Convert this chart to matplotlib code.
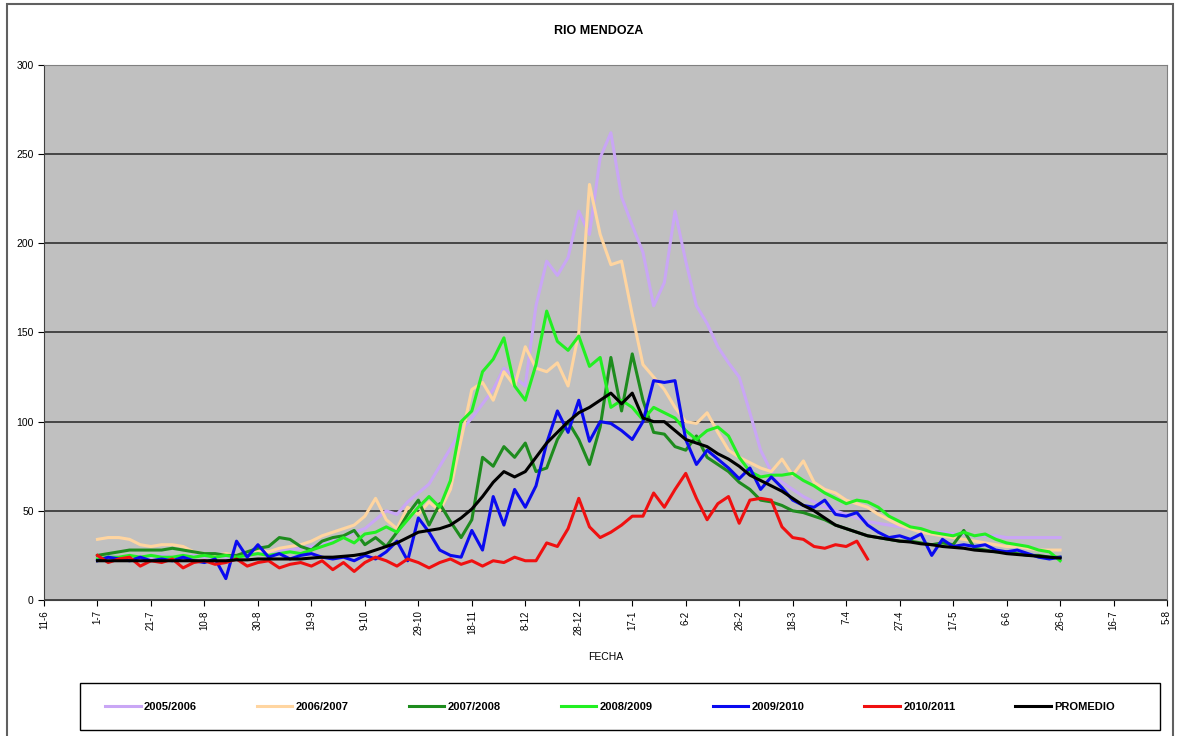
import matplotlib
matplotlib.use("Agg")
import matplotlib.pyplot as plt
from matplotlib.patches import Rectangle
import numpy as np

plt.rcParams['font.family'] = ['Liberation Sans', 'DejaVu Sans']

# x axis: days counted from 11-6, ticks every 20 days
tick_labels = ['11-6', '1-7', '21-7', '10-8', '30-8', '19-9', '9-10', '29-10', '18-11',
               '8-12', '28-12', '17-1', '6-2', '26-2', '18-3', '7-4', '27-4', '17-5',
               '6-6', '26-6', '16-7', '5-8']

# series sampled every 4 days starting at 1-7 (day 20)
start_day = 20
step = 4

s2005 = [23, 24, 24, 23, 24, 24, 25, 24, 24, 25,
         24, 25, 24, 25, 26, 26, 27, 28, 28, 29,
         30, 31, 33, 35, 38, 40, 45, 50, 48, 55,
         60, 65, 75, 85, 95, 102, 110, 118, 130, 125,
         120, 165, 190, 182, 192, 218, 205, 248, 262, 226,
         210, 195, 165, 178, 218, 190, 165, 155, 142, 133,
         125, 105, 84, 72, 66, 62, 58, 55, 52, 50,
         48, 46, 44, 43, 42, 41, 40, 39, 38, 38,
         37, 37, 36, 36, 36, 35, 35, 35, 35, 35,
         35]

s2006 = [34, 35, 35, 34, 31, 30, 31, 31, 30, 27,
         26, 25, 26, 25, 27, 28, 27, 29, 30, 31,
         33, 36, 38, 40, 42, 47, 57, 45, 40, 52,
         48, 55, 50, 62, 90, 118, 122, 112, 128, 120,
         142, 130, 128, 133, 120, 150, 233, 205, 188, 190,
         160, 132, 125, 118, 108, 100, 99, 105, 94, 84,
         80, 77, 74, 72, 79, 70, 78, 66, 62, 60,
         56, 54, 52, 48, 45, 42, 40, 38, 37, 36,
         35, 34, 33, 32, 31, 30, 30, 29, 28, 28,
         28]

s2007 = [25, 26, 27, 28, 28, 28, 28, 29, 28, 27,
         26, 26, 25, 25, 27, 29, 30, 35, 34, 30,
         28, 33, 35, 36, 39, 31, 35, 30, 38, 48,
         56, 42, 54, 44, 35, 45, 80, 75, 86, 80,
         88, 72, 74, 90, 100, 90, 76, 97, 136, 106,
         138, 112, 94, 93, 86, 84, 92, 80, 76, 72,
         66, 62, 56, 55, 53, 50, 49, 47, 45, 42,
         40, 38, 36, 35, 34, 33, 33, 32, 31, 32,
         31, 39, 29, 28, 27, 27, 26, 25, 25, 24,
         24]

s2008 = [23, 24, 24, 25, 24, 25, 24, 24, 25, 24,
         25, 24, 25, 24, 25, 26, 25, 26, 27, 26,
         28, 30, 32, 35, 32, 37, 38, 41, 38, 45,
         52, 58, 52, 67, 100, 106, 128, 135, 147, 120,
         112, 132, 162, 145, 140, 148, 131, 136, 108, 112,
         108, 101, 108, 105, 102, 95, 90, 95, 97, 92,
         80, 72, 69, 70, 70, 71, 67, 64, 60, 57,
         54, 56, 55, 52, 47, 44, 41, 40, 38, 37,
         36, 38, 36, 37, 34, 32, 31, 30, 28, 27,
         22]

s2009 = [22, 24, 23, 22, 24, 22, 23, 22, 24, 22,
         21, 23, 12, 33, 24, 31, 24, 26, 23, 25,
         26, 24, 23, 24, 22, 25, 23, 27, 33, 22,
         46, 38, 28, 25, 24, 39, 28, 58, 42, 62,
         52, 64, 88, 106, 94, 112, 89, 100, 99, 95,
         90, 100, 123, 122, 123, 90, 76, 84, 79, 74,
         68, 74, 62, 69, 63, 56, 53, 52, 56, 48,
         47, 49, 42, 38, 35, 36, 34, 37, 25, 34,
         30, 31, 30, 31, 28, 27, 28, 26, 24, 23,
         24]

s2010 = [25, 21, 23, 24, 19, 22, 21, 23, 18, 21,
         22, 20, 21, 23, 19, 21, 22, 18, 20, 21,
         19, 22, 17, 21, 16, 21, 24, 22, 19, 23,
         21, 18, 21, 23, 20, 22, 19, 22, 21, 24,
         22, 22, 32, 30, 40, 57, 41, 35, 38, 42,
         47, 47, 60, 52, 62, 71, 57, 45, 54, 58,
         43, 56, 57, 56, 41, 35, 34, 30, 29, 31,
         30, 33, 23]

promedio = [22, 22, 22, 22, 22, 22, 22, 22, 22, 22,
            22, 22, 22, 22.5, 22.5, 23, 23, 23, 23, 23,
            23.5, 24, 24, 24.5, 25, 26, 28, 30, 32, 35,
            38, 39, 40, 42, 46, 51, 58, 66, 72, 69,
            72, 80, 88, 94, 100, 105, 108, 112, 116, 110,
            116, 102, 100, 100, 95, 90, 88, 86, 82, 79,
            75, 70, 67, 64, 61, 57, 53, 50, 46, 42,
            40, 38, 36, 35, 34, 33, 32.5, 31.5, 31, 30,
            29.5, 29, 28, 27.5, 27, 26, 25.5, 25, 24.5, 24,
            23.5]

series = [('2005/2006', s2005, '#C9A6F5'),
          ('2006/2007', s2006, '#FFD5A0'),
          ('2007/2008', s2007, '#1E8C1E'),
          ('2008/2009', s2008, '#22F022'),
          ('2009/2010', s2009, '#0A0AF0'),
          ('2010/2011', s2010, '#F01010'),
          ('PROMEDIO', promedio, '#000000')]

fig = plt.figure(figsize=(11.8, 7.36), dpi=100)
ax = fig.add_axes([0.0373, 0.1848, 0.9517, 0.7269])
ax.set_facecolor('#C0C0C0')

for name, vals, col in series:
    days = start_day + step * np.arange(len(vals))
    ax.plot(days, vals, color=col, lw=2.2, label=name)

ax.set_xlim(0, 420)
ax.set_ylim(0, 300)
ax.set_xticks(np.arange(0, 421, 20))
ax.set_xticklabels(tick_labels, rotation=90, fontsize=7)
ax.set_yticks(np.arange(0, 301, 50))
ax.tick_params(axis='y', labelsize=7.5, length=4, direction='out')
ax.tick_params(axis='x', length=4, direction='out')
ax.yaxis.grid(True, color='#303030', lw=1.2)
ax.set_axisbelow(True)
for side in ['top', 'right']:
    ax.spines[side].set_color('#808080')
for side in ['left', 'bottom']:
    ax.spines[side].set_color('#404040')

fig.text(0.507, 0.958, 'RIO MENDOZA', ha='center', va='center', fontsize=9, fontweight='bold')
fig.text(0.513, 0.107, 'FECHA', ha='center', va='center', fontsize=7.5)

# legend box drawn separately, entries centred inside it
fig.patches.append(Rectangle((0.068, 0.008), 0.915, 0.064, transform=fig.transFigure,
                             fill=False, edgecolor='#000000', lw=1.0))
leg = fig.legend(loc='center', ncol=7, bbox_to_anchor=(0.517, 0.040),
                 fontsize=8, handlelength=3.2, frameon=False,
                 handletextpad=0.3, columnspacing=5.4, borderaxespad=0)
for t in leg.get_texts():
    t.set_fontweight('bold')

fig.patches.append(Rectangle((0.006, -0.01), 0.988, 1.005, transform=fig.transFigure,
                             fill=False, edgecolor='#606060', lw=1.5))

fig.savefig('out.png', dpi=100)
